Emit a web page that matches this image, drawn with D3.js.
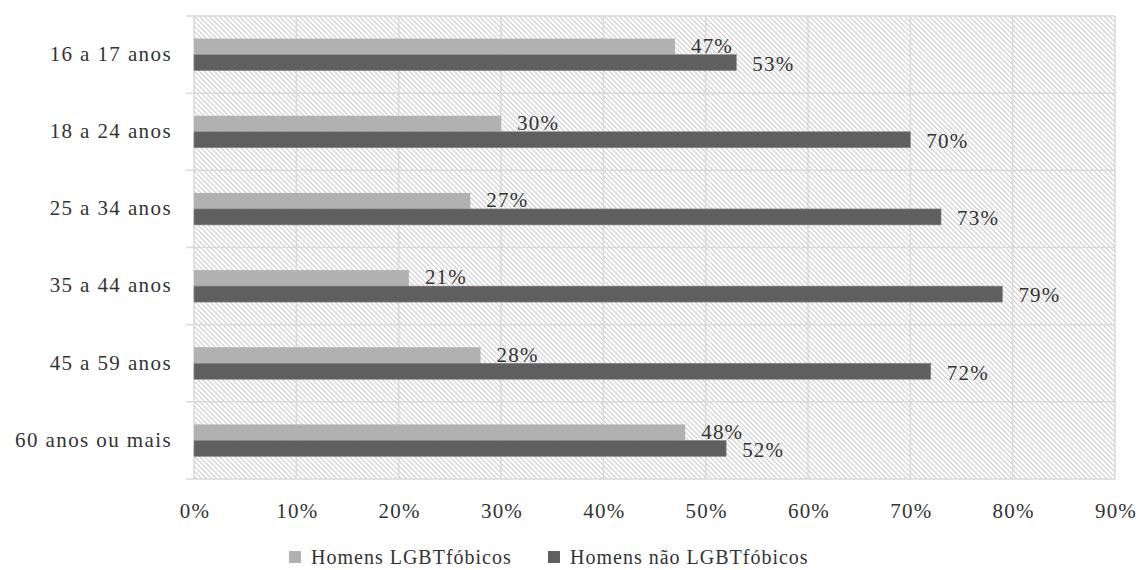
<!DOCTYPE html>
<html>
<head>
<meta charset="utf-8">
<script src="https://cdn.jsdelivr.net/npm/d3@7"></script>
<style>
  html, body { margin: 0; padding: 0; background: #fff; }
  svg text { font-family: "Liberation Serif", "Times New Roman", serif; fill: #333; }
</style>
</head>
<body>
<svg id="chart" width="1142" height="570"></svg>
<script>
// Age groups and share of each group of men
const categories = ["16 a 17 anos", "18 a 24 anos", "25 a 34 anos", "35 a 44 anos", "45 a 59 anos", "60 anos ou mais"];
const seriesNames = ["Homens LGBTfóbicos", "Homens não LGBTfóbicos"];
const lgbtfobicos = [47, 30, 27, 21, 28, 48];
const naoLgbtfobicos = [53, 70, 73, 79, 72, 52];
const xTicks = [0, 10, 20, 30, 40, 50, 60, 70, 80, 90];
const seriesColors = ["#b1b1b1", "#5f5f5f"];

const svg = d3.select("#chart");
const margin = { left: 194, right: 27, top: 16, bottom: 91 };
const W = 1142, H = 570;
const plotW = W - margin.left - margin.right;
const plotH = H - margin.top - margin.bottom;

const rows = categories.map((c, i) => ({ cat: c, values: [lgbtfobicos[i], naoLgbtfobicos[i]] }));

const x = d3.scaleLinear().domain([0, 90]).range([0, plotW]);
const y = d3.scaleBand().domain(categories).range([0, plotH]).paddingInner(0).paddingOuter(0);
const ySeries = d3.scaleBand().domain(seriesNames).range([0, y.bandwidth()]).paddingInner(0).paddingOuter(1.41);

// diagonal hatch fill for the plot area
const defs = svg.append("defs");
const pat = defs.append("pattern")
  .attr("id", "hatch")
  .attr("patternUnits", "userSpaceOnUse")
  .attr("width", 5).attr("height", 5);
pat.append("rect").attr("width", 5).attr("height", 5).attr("fill", "#fff");
pat.append("path")
  .attr("d", "M-1,-1 L6,6 M-1,4 L1,6 M4,-1 L6,1")
  .attr("stroke", "#cdcdcd").attr("stroke-width", 1.1);

const g = svg.append("g").attr("transform", `translate(${margin.left},${margin.top})`);

g.append("rect")
  .attr("width", plotW).attr("height", plotH)
  .attr("fill", "url(#hatch)");

// vertical gridlines
g.append("g").selectAll("line").data(xTicks).join("line")
  .attr("x1", d => x(d)).attr("x2", d => x(d))
  .attr("y1", 0).attr("y2", plotH)
  .attr("stroke", "#d9d9d9").attr("stroke-width", 1.5);

// horizontal separators between categories (with short ticks on the left)
const seps = d3.range(categories.length + 1).map(i => i * y.step());
g.append("g").selectAll("line").data(seps).join("line")
  .attr("x1", -8).attr("x2", plotW)
  .attr("y1", d => d).attr("y2", d => d)
  .attr("stroke", "#d9d9d9").attr("stroke-width", 1.5);

// bars
const groups = g.append("g").selectAll("g").data(rows).join("g")
  .attr("transform", d => `translate(0,${y(d.cat)})`);

groups.selectAll("rect").data(d => d.values.map((v, k) => ({ v, k }))).join("rect")
  .attr("x", 0)
  .attr("y", d => ySeries(seriesNames[d.k]))
  .attr("width", d => x(d.v))
  .attr("height", ySeries.bandwidth())
  .attr("fill", d => seriesColors[d.k])
  .attr("stroke", d => d.k === 1 ? "#8a8a8a" : "none")
  .attr("stroke-width", 0.6);

// value labels
groups.selectAll("text").data(d => d.values.map((v, k) => ({ v, k }))).join("text")
  .attr("x", d => x(d.v) + 16)
  .attr("y", d => ySeries(seriesNames[d.k]) + ySeries.bandwidth() / 2 + (d.k === 0 ? -1 : 1))
  .attr("dy", "0.35em")
  .attr("font-size", 21)
  .attr("letter-spacing", 1.2)
  .text(d => d.v + "%");

// category labels
g.append("g").selectAll("text").data(categories).join("text")
  .attr("x", -22)
  .attr("y", d => y(d) + y.bandwidth() / 2)
  .attr("dy", "0.3em")
  .attr("text-anchor", "end")
  .attr("font-size", 21)
  .attr("letter-spacing", 1.4)
  .text(d => d);

// x axis labels
g.append("g").selectAll("text").data(xTicks).join("text")
  .attr("x", d => x(d) + 1)
  .attr("y", plotH + 32)
  .attr("dy", "0.35em")
  .attr("text-anchor", "middle")
  .attr("font-size", 21)
  .attr("letter-spacing", 1.2)
  .text(d => d + "%");

// legend
const legendItems = [
  { name: seriesNames[0], color: seriesColors[0], x: 289 },
  { name: seriesNames[1], color: seriesColors[1], x: 548 }
];
const lg = svg.append("g").selectAll("g").data(legendItems).join("g")
  .attr("transform", d => `translate(${d.x},557)`);
lg.append("rect")
  .attr("x", 0).attr("y", -6).attr("width", 12).attr("height", 12)
  .attr("fill", d => d.color);
lg.append("text")
  .attr("x", 22).attr("y", 0).attr("dy", "0.33em")
  .attr("font-size", 20)
  .attr("letter-spacing", 1.0)
  .text(d => d.name);
</script>
</body>
</html>
